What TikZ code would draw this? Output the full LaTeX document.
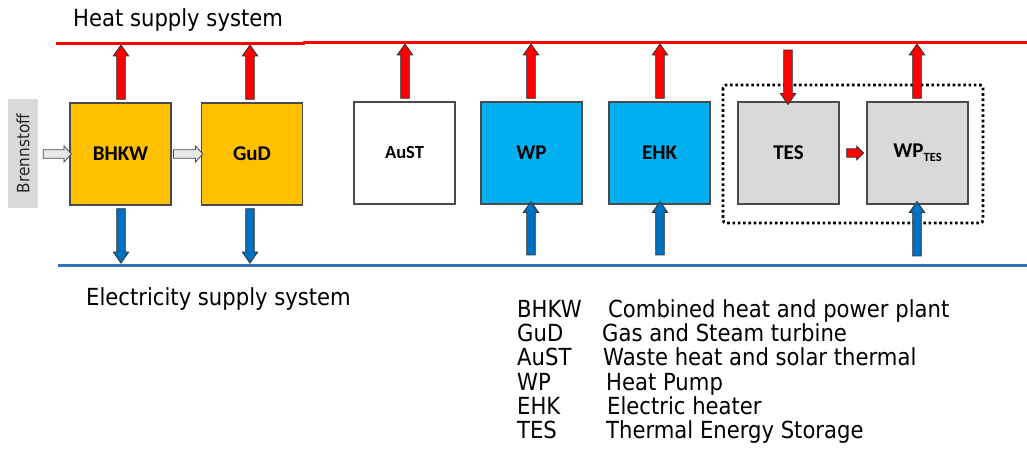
\documentclass[tikz,border=0pt]{standalone}
\usepackage{fontspec}
\setmainfont{DejaVu Sans}[FakeStretch=0.9]
\newfontfamily\boxfont{Carlito}
\usetikzlibrary{shapes.arrows,calc}
\definecolor{boxorange}{HTML}{FFC000}
\definecolor{boxcyan}{HTML}{00B0F0}
\definecolor{boxgray}{HTML}{D9D9D9}
\definecolor{boxline}{HTML}{4A4A4A}
\definecolor{arrblue}{HTML}{0070C0}
\definecolor{lineblue}{HTML}{2E75B6}
\definecolor{linered}{HTML}{FF0000}
\definecolor{arrline}{HTML}{303030}
\newcommand\blockarrow[3]{%
  \path let \p1=(#2), \p2=(#3), \n1={atan2(\y2-\y1,\x2-\x1)}, \n2={veclen(\x2-\x1,\y2-\y1)} in
    node[#1, minimum height=\n2, rotate=\n1] at ($(\p1)!0.5!(\p2)$) {};%
}
\tikzset{
  unitbox/.style={draw=boxline, line width=1.2pt, minimum width=101pt, minimum height=102pt, inner sep=0pt, font=\boxfont\bfseries\fontsize{21}{24}\selectfont},
  arr/.style={single arrow, draw=arrline, line width=0.8pt, inner xsep=0pt, inner ysep=3.9pt, minimum width=0pt, single arrow head extend=3.4pt, single arrow tip angle=70, outer sep=0pt},
  redarr/.style={arr, fill=linered},
  bluearr/.style={arr, fill=arrblue},
  grayarr/.style={arr, fill=gray!18, draw=boxline, single arrow head extend=3.8pt, single arrow tip angle=95},
  bigtext/.style={anchor=base west, inner sep=0pt, font=\fontsize{23.5}{27}\selectfont},
}
\begin{document}
\begin{tikzpicture}[x=1pt,y=-1pt]
\useasboundingbox (0,0) rectangle (1027,465);
% supply lines
\draw[linered, line width=3.2pt] (56,43.3) -- (305,43.3);
\draw[linered, line width=3.2pt] (303,42.8) -- (1027,42.8);
\draw[lineblue, line width=3pt] (58,265) -- (1027,265);
\node[bigtext] (heat) at (73,27) {Heat supply system};
\node[bigtext] (elec) at (86,305) {Electricity supply system};
% fuel
\node[fill=boxgray, minimum width=30pt, minimum height=109pt, inner sep=0pt] (fuel) at (23,153.5) {};
\node[rotate=90, font=\fontsize{17}{20}\selectfont, text=black!85] at (fuel.center) {Brennstoff};
% boxes
\node[unitbox, fill=boxorange] (bhkw) at (120.5,154) {BHKW};
\node[unitbox, fill=boxorange] (gud) at (252,154) {GuD};
\node[unitbox, fill=white, font=\boxfont\bfseries\fontsize{18.5}{22}\selectfont] (aust) at (404.5,153) {AuST};
\node[unitbox, fill=boxcyan] (wp) at (531.5,153) {WP};
\node[unitbox, fill=boxcyan] (ehk) at (659.5,153) {EHK};
\node[unitbox, fill=boxgray] (tes) at (788.5,153) {TES};
\node[unitbox, fill=boxgray] (wptes) at (917.5,153) {WP\raisebox{-0.35ex}{\fontsize{12.5}{14}\selectfont TES}};
% storage group
\draw[line width=2.8pt, dash pattern=on 2.6pt off 2.7pt, rounded corners=3pt] (723,85) rectangle (983,223);
% line coordinates
\coordinate (hB) at (121,48);
\coordinate (hG) at (250,48);
\coordinate (hA) at (405,47);
\coordinate (hW) at (531,47);
\coordinate (hE) at (660,47);
\coordinate (hT) at (788,47);
\coordinate (hX) at (917,47);
\coordinate (eB) at (121,260);
\coordinate (eG) at (250,260);
\coordinate (eW) at (531,258);
\coordinate (eE) at (660,258);
\coordinate (eX) at (917,259);
% heat arrows
\blockarrow{redarr}{bhkw.north-|hB}{hB}
\blockarrow{redarr}{gud.north-|hG}{hG}
\blockarrow{redarr}{aust.north-|hA}{hA}
\blockarrow{redarr}{wp.north-|hW}{hW}
\blockarrow{redarr}{ehk.north-|hE}{hE}
\blockarrow{redarr}{hT}{tes.north-|hT}
\blockarrow{redarr}{wptes.north-|hX}{hX}
% electricity arrows
\blockarrow{bluearr}{bhkw.south-|eB}{eB}
\blockarrow{bluearr}{gud.south-|eG}{eG}
\blockarrow{bluearr}{eW}{wp.south-|eW}
\blockarrow{bluearr}{eE}{ehk.south-|eE}
\blockarrow{bluearr}{eX}{wptes.south-|eX}
% flow arrows
\blockarrow{grayarr}{[xshift=3pt]fuel.east|-bhkw}{bhkw.west}
\blockarrow{grayarr}{bhkw.east}{gud.west}
\blockarrow{redarr, inner ysep=3.8pt, single arrow head extend=2.6pt, single arrow tip angle=90}{[xshift=5pt]tes.east}{[xshift=-5pt]wptes.west}
% legend
\begin{scope}[every node/.style={anchor=base west, inner sep=0pt, font=\fontsize{23.5}{27}\selectfont}]
\node (l1) at (517,317) {BHKW};  \node (d1) at (608,317) {Combined heat and power plant};
\node (l2) at (517,341) {GuD};   \node (d2) at (602,341) {Gas and Steam turbine};
\node (l3) at (517,365) {AuST};  \node (d3) at (603,365) {Waste heat and solar thermal};
\node (l4) at (517,390) {WP};    \node (d4) at (606,390) {Heat Pump};
\node (l5) at (517,414) {EHK};   \node (d5) at (607,414) {Electric heater};
\node (l6) at (517,438) {TES};   \node (d6) at (606,438) {Thermal Energy Storage};
\end{scope}
\end{tikzpicture}
\end{document}
